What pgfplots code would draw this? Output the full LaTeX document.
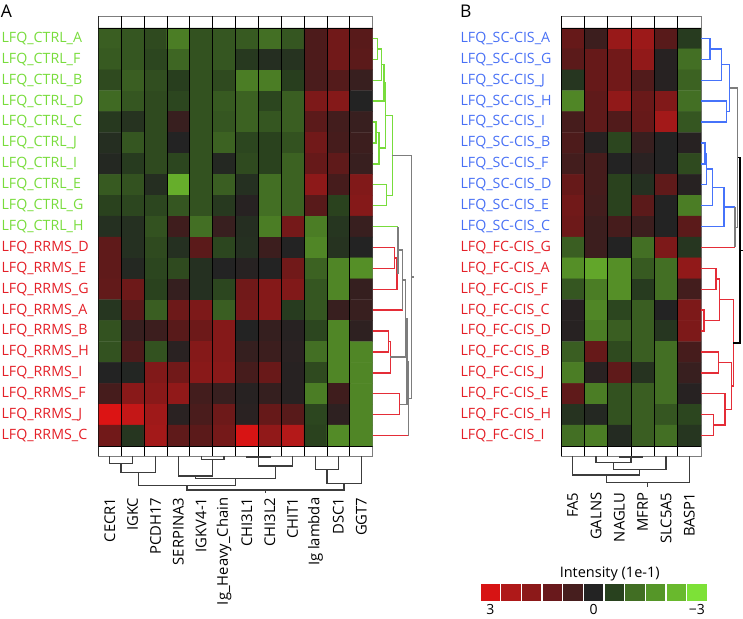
\documentclass[border=0pt]{standalone}
\usepackage{pgfplots}
\pgfplotsset{compat=1.18}
\usepackage{fontspec}
\setmainfont{Open Sans}
\definecolor{lgreen}{RGB}{120,220,60}
\definecolor{lred}{RGB}{228,32,40}
\definecolor{lblue}{RGB}{72,112,245}
\definecolor{dblue}{RGB}{70,115,250}
\definecolor{dred}{RGB}{228,45,55}
\definecolor{dgray}{RGB}{125,125,125}
\definecolor{dblack}{RGB}{60,60,60}
\definecolor{cb0}{RGB}{215,20,20}
\definecolor{cb1}{RGB}{175,25,25}
\definecolor{cb2}{RGB}{140,25,25}
\definecolor{cb3}{RGB}{105,25,28}
\definecolor{cb4}{RGB}{70,30,30}
\definecolor{cb5}{RGB}{35,35,35}
\definecolor{cb6}{RGB}{40,65,30}
\definecolor{cb7}{RGB}{65,110,35}
\definecolor{cb8}{RGB}{85,150,40}
\definecolor{cb9}{RGB}{105,185,45}
\definecolor{cb10}{RGB}{125,225,55}
\newcommand{\cgreen}[1]{\textcolor{lgreen}{#1}}
\newcommand{\cred}[1]{\textcolor{lred}{#1}}
\newcommand{\cblue}[1]{\textcolor{lblue}{#1}}
\pgfplotsset{colormap={hm}{rgb255=(220,20,20) rgb255=(180,25,25) rgb255=(145,25,25) rgb255=(105,25,25) rgb255=(70,28,28) rgb255=(35,35,35) rgb255=(40,62,30) rgb255=(62,102,35) rgb255=(88,148,40) rgb255=(108,185,45) rgb255=(125,225,55)}}
\pgfplotsset{hmstyle/.style={scale only axis, height=440pt, ymin=-19.9785, ymax=1.0742,
  colormap name=hm, point meta min=0, point meta max=10,
  axis line style={draw=dgray, line width=0.8pt}, major tick length=0pt,
  tick label style={font=\fontsize{14.2}{16}\selectfont, inner sep=0pt},
  xticklabel style={font=\fontsize{14.8}{17}\selectfont},
  ytick={0,-1,...,-19}}}
\begin{document}
\begin{tikzpicture}
\path[use as bounding box] (0pt,0pt) rectangle (743pt,-618pt);
% ---------------- Panel A heatmap
\begin{axis}[hmstyle, at={(98.3pt,-16pt)}, anchor=north west, width=274.4pt,
  xmin=0, xmax=12, xtick={0.5,1.5,...,11.5},
  xticklabels={CECR1,IGKC,PCDH17,SERPINA3,IGKV4-1,Ig\_Heavy\_Chain,CHI3L1,CHI3L2,CHIT1,Ig lambda,DSC1,GGT7},
  xticklabel style={yshift=-41.5pt, rotate=90, anchor=east},
  yticklabel style={anchor=west, xshift=-96.9pt},
  yticklabels={\cgreen{LFQ\_CTRL\_A},\cgreen{LFQ\_CTRL\_F},\cgreen{LFQ\_CTRL\_B},\cgreen{LFQ\_CTRL\_D},\cgreen{LFQ\_CTRL\_C},\cgreen{LFQ\_CTRL\_J},\cgreen{LFQ\_CTRL\_I},\cgreen{LFQ\_CTRL\_E},\cgreen{LFQ\_CTRL\_G},\cgreen{LFQ\_CTRL\_H},\cred{LFQ\_RRMS\_D},\cred{LFQ\_RRMS\_E},\cred{LFQ\_RRMS\_G},\cred{LFQ\_RRMS\_A},\cred{LFQ\_RRMS\_B},\cred{LFQ\_RRMS\_H},\cred{LFQ\_RRMS\_I},\cred{LFQ\_RRMS\_F},\cred{LFQ\_RRMS\_J},\cred{LFQ\_RRMS\_C}}]
\addplot[matrix plot*, mesh/cols=12, point meta=explicit] coordinates {
(0.5,0)[6.8] (1.5,0)[6.6] (2.5,0)[6.3] (3.5,0)[7.5] (4.5,0)[6.5] (5.5,0)[6.6] (6.5,0)[6.7] (7.5,0)[7.2] (8.5,0)[6.6] (9.5,0)[3.8] (10.5,0)[2.8] (11.5,0)[3.5]

(0.5,-1)[6.7] (1.5,-1)[6.6] (2.5,-1)[6.2] (3.5,-1)[7.0] (4.5,-1)[6.5] (5.5,-1)[6.6] (6.5,-1)[5.8] (7.5,-1)[5.4] (8.5,-1)[5.6] (9.5,-1)[3.8] (10.5,-1)[2.8] (11.5,-1)[3.4]

(0.5,-2)[6.3] (1.5,-2)[6.8] (2.5,-2)[6.4] (3.5,-2)[6.0] (4.5,-2)[6.5] (5.5,-2)[6.3] (6.5,-2)[7.5] (7.5,-2)[7.5] (8.5,-2)[6.0] (9.5,-2)[3.9] (10.5,-2)[3.6] (11.5,-2)[4.4]

(0.5,-3)[7.1] (1.5,-3)[6.6] (2.5,-3)[6.3] (3.5,-3)[6.2] (4.5,-3)[6.5] (5.5,-3)[6.7] (6.5,-3)[6.9] (7.5,-3)[6.2] (8.5,-3)[6.8] (9.5,-3)[2.5] (10.5,-3)[2.3] (11.5,-3)[5.0]

(0.5,-4)[5.8] (1.5,-4)[5.6] (2.5,-4)[6.3] (3.5,-4)[4.4] (4.5,-4)[6.5] (5.5,-4)[6.6] (6.5,-4)[6.9] (7.5,-4)[6.6] (8.5,-4)[6.8] (9.5,-4)[3.4] (10.5,-4)[4.1] (11.5,-4)[4.4]

(0.5,-5)[5.4] (1.5,-5)[6.6] (2.5,-5)[6.3] (3.5,-5)[5.0] (4.5,-5)[6.5] (5.5,-5)[6.9] (6.5,-5)[6.2] (7.5,-5)[6.1] (8.5,-5)[6.5] (9.5,-5)[2.8] (10.5,-5)[4.0] (11.5,-5)[4.3]

(0.5,-6)[5.2] (1.5,-6)[5.9] (2.5,-6)[6.3] (3.5,-6)[6.2] (4.5,-6)[6.5] (5.5,-6)[5.2] (6.5,-6)[6.3] (7.5,-6)[6.1] (8.5,-6)[6.9] (9.5,-6)[3.1] (10.5,-6)[3.3] (11.5,-6)[4.4]

(0.5,-7)[6.7] (1.5,-7)[6.5] (2.5,-7)[5.4] (3.5,-7)[8.7] (4.5,-7)[6.5] (5.5,-7)[6.8] (6.5,-7)[5.5] (7.5,-7)[7.2] (8.5,-7)[6.9] (9.5,-7)[2.1] (10.5,-7)[4.0] (11.5,-7)[2.4]

(0.5,-8)[6.1] (1.5,-8)[6.2] (2.5,-8)[6.2] (3.5,-8)[6.6] (4.5,-8)[6.5] (5.5,-8)[5.8] (6.5,-8)[4.9] (7.5,-8)[7.2] (8.5,-8)[6.9] (9.5,-8)[3.5] (10.5,-8)[6.1] (11.5,-8)[2.3]

(0.5,-9)[5.5] (1.5,-9)[5.5] (2.5,-9)[6.5] (3.5,-9)[4.2] (4.5,-9)[7.2] (5.5,-9)[4.4] (6.5,-9)[5.4] (7.5,-9)[7.5] (8.5,-9)[2.7] (9.5,-9)[7.5] (10.5,-9)[5.7] (11.5,-9)[4.4]

(0.5,-10)[3.3] (1.5,-10)[5.5] (2.5,-10)[6.3] (3.5,-10)[5.5] (4.5,-10)[3.4] (5.5,-10)[6.2] (6.5,-10)[5.5] (7.5,-10)[4.3] (8.5,-10)[5.0] (9.5,-10)[7.7] (10.5,-10)[5.6] (11.5,-10)[5.0]

(0.5,-11)[3.3] (1.5,-11)[5.2] (2.5,-11)[6.2] (3.5,-11)[6.3] (4.5,-11)[5.5] (5.5,-11)[5.0] (6.5,-11)[4.9] (7.5,-11)[5.0] (8.5,-11)[2.8] (9.5,-11)[6.9] (10.5,-11)[7.7] (11.5,-11)[7.9]

(0.5,-12)[3.2] (1.5,-12)[2.9] (2.5,-12)[6.1] (3.5,-12)[4.5] (4.5,-12)[5.5] (5.5,-12)[6.2] (6.5,-12)[2.8] (7.5,-12)[2.3] (8.5,-12)[2.4] (9.5,-12)[6.6] (10.5,-12)[7.7] (11.5,-12)[4.5]

(0.5,-13)[5.7] (1.5,-13)[3.5] (2.5,-13)[6.8] (3.5,-13)[2.9] (4.5,-13)[2.5] (5.5,-13)[6.8] (6.5,-13)[2.7] (7.5,-13)[2.3] (8.5,-13)[5.9] (9.5,-13)[6.6] (10.5,-13)[4.4] (11.5,-13)[4.4]

(0.5,-14)[6.5] (1.5,-14)[4.4] (2.5,-14)[4.3] (3.5,-14)[3.5] (4.5,-14)[2.9] (5.5,-14)[2.3] (6.5,-14)[5.0] (7.5,-14)[4.5] (8.5,-14)[4.9] (9.5,-14)[6.2] (10.5,-14)[7.7] (11.5,-14)[4.7]

(0.5,-15)[6.5] (1.5,-15)[3.8] (2.5,-15)[6.5] (3.5,-15)[4.8] (4.5,-15)[2.3] (5.5,-15)[2.3] (6.5,-15)[4.5] (7.5,-15)[4.3] (8.5,-15)[4.8] (9.5,-15)[7.2] (10.5,-15)[7.7] (11.5,-15)[7.7]

(0.5,-16)[5.0] (1.5,-16)[5.1] (2.5,-16)[2.4] (3.5,-16)[2.8] (4.5,-16)[2.2] (5.5,-16)[2.2] (6.5,-16)[4.0] (7.5,-16)[3.0] (8.5,-16)[4.9] (9.5,-16)[6.3] (10.5,-16)[7.7] (11.5,-16)[7.7]

(0.5,-17)[4.0] (1.5,-17)[2.2] (2.5,-17)[2.2] (3.5,-17)[2.0] (4.5,-17)[4.1] (5.5,-17)[4.4] (6.5,-17)[4.9] (7.5,-17)[4.5] (8.5,-17)[4.9] (9.5,-17)[7.5] (10.5,-17)[4.2] (11.5,-17)[7.7]

(0.5,-18)[0.0] (1.5,-18)[0.6] (2.5,-18)[1.6] (3.5,-18)[4.8] (4.5,-18)[3.9] (5.5,-18)[2.9] (6.5,-18)[4.8] (7.5,-18)[3.1] (8.5,-18)[3.5] (9.5,-18)[6.2] (10.5,-18)[4.7] (11.5,-18)[7.7]

(0.5,-19)[2.8] (1.5,-19)[5.7] (2.5,-19)[1.5] (3.5,-19)[3.3] (4.5,-19)[3.4] (5.5,-19)[2.7] (6.5,-19)[0.1] (7.5,-19)[2.0] (8.5,-19)[1.0] (9.5,-19)[6.1] (10.5,-19)[7.8] (11.5,-19)[7.7]
};
\pgfplotsinvokeforeach{0,...,11}{\draw[black, line width=0.8pt] (axis cs:#1,-19.9785) -- (axis cs:#1,1.0742);}
\draw[black, line width=0.8pt] (axis cs:0,0.5) -- (axis cs:12,0.5);
\draw[black, line width=0.8pt] (axis cs:0,-19.5) -- (axis cs:12,-19.5);
\end{axis}
% ---------------- Panel B heatmap
\begin{axis}[hmstyle, at={(561pt,-16pt)}, anchor=north west, width=140pt,
  xmin=0, xmax=6, xtick={0.5,1.5,...,5.5},
  xticklabels={FA5,GALNS,NAGLU,MFRP,SLC5A5,BASP1},
  xticklabel style={yshift=-36.5pt, rotate=90, anchor=east},
  yticklabel style={anchor=west, xshift=-100.6pt},
  yticklabels={\cblue{LFQ\_SC-CIS\_A},\cblue{LFQ\_SC-CIS\_G},\cblue{LFQ\_SC-CIS\_J},\cblue{LFQ\_SC-CIS\_H},\cblue{LFQ\_SC-CIS\_I},\cblue{LFQ\_SC-CIS\_B},\cblue{LFQ\_SC-CIS\_F},\cblue{LFQ\_SC-CIS\_D},\cblue{LFQ\_SC-CIS\_E},\cblue{LFQ\_SC-CIS\_C},\cred{LFQ\_FC-CIS\_G},\cred{LFQ\_FC-CIS\_A},\cred{LFQ\_FC-CIS\_F},\cred{LFQ\_FC-CIS\_C},\cred{LFQ\_FC-CIS\_D},\cred{LFQ\_FC-CIS\_B},\cred{LFQ\_FC-CIS\_J},\cred{LFQ\_FC-CIS\_E},\cred{LFQ\_FC-CIS\_H},\cred{LFQ\_FC-CIS\_I}}]
\addplot[matrix plot*, mesh/cols=6, point meta=explicit] coordinates {
(0.5,0)[3.1] (1.5,0)[4.3] (2.5,0)[1.8] (3.5,0)[1.7] (4.5,0)[3.5] (5.5,0)[5.9]

(0.5,-1)[3.4] (1.5,-1)[3.1] (2.5,-1)[2.8] (3.5,-1)[2.0] (4.5,-1)[4.9] (5.5,-1)[7.2]

(0.5,-2)[5.7] (1.5,-2)[3.1] (2.5,-2)[2.8] (3.5,-2)[3.7] (4.5,-2)[4.9] (5.5,-2)[6.9]

(0.5,-3)[7.7] (1.5,-3)[3.3] (2.5,-3)[2.0] (3.5,-3)[3.0] (4.5,-3)[2.4] (5.5,-3)[7.2]

(0.5,-4)[4.0] (1.5,-4)[3.3] (2.5,-4)[3.7] (3.5,-4)[3.1] (4.5,-4)[1.5] (5.5,-4)[6.6]

(0.5,-5)[3.8] (1.5,-5)[4.9] (2.5,-5)[6.2] (3.5,-5)[4.4] (4.5,-5)[5.0] (5.5,-5)[4.9]

(0.5,-6)[4.1] (1.5,-6)[4.0] (2.5,-6)[5.0] (3.5,-6)[4.8] (4.5,-6)[5.0] (5.5,-6)[6.3]

(0.5,-7)[3.1] (1.5,-7)[4.0] (2.5,-7)[6.1] (3.5,-7)[5.5] (4.5,-7)[3.3] (5.5,-7)[4.9]

(0.5,-8)[2.8] (1.5,-8)[4.1] (2.5,-8)[6.1] (3.5,-8)[3.4] (4.5,-8)[5.0] (5.5,-8)[7.5]

(0.5,-9)[2.9] (1.5,-9)[4.3] (2.5,-9)[4.0] (3.5,-9)[4.3] (4.5,-9)[5.0] (5.5,-9)[3.4]

(0.5,-10)[6.8] (1.5,-10)[4.3] (2.5,-10)[5.0] (3.5,-10)[7.2] (4.5,-10)[2.5] (5.5,-10)[5.7]

(0.5,-11)[7.9] (1.5,-11)[8.5] (2.5,-11)[7.9] (3.5,-11)[6.7] (4.5,-11)[7.2] (5.5,-11)[2.0]

(0.5,-12)[6.6] (1.5,-12)[7.5] (2.5,-12)[7.9] (3.5,-12)[5.9] (4.5,-12)[7.2] (5.5,-12)[4.1]

(0.5,-13)[4.9] (1.5,-13)[7.7] (2.5,-13)[6.2] (3.5,-13)[6.8] (4.5,-13)[5.0] (5.5,-13)[2.5]

(0.5,-14)[4.9] (1.5,-14)[7.5] (2.5,-14)[6.8] (3.5,-14)[6.8] (4.5,-14)[5.7] (5.5,-14)[2.5]

(0.5,-15)[6.8] (1.5,-15)[3.1] (2.5,-15)[6.3] (3.5,-15)[6.8] (4.5,-15)[7.2] (5.5,-15)[4.0]

(0.5,-16)[7.5] (1.5,-16)[4.8] (2.5,-16)[3.3] (3.5,-16)[5.6] (4.5,-16)[7.2] (5.5,-16)[4.4]

(0.5,-17)[3.3] (1.5,-17)[7.5] (2.5,-17)[6.5] (3.5,-17)[6.8] (4.5,-17)[7.2] (5.5,-17)[4.9]

(0.5,-18)[5.6] (1.5,-18)[5.2] (2.5,-18)[6.5] (3.5,-18)[6.8] (4.5,-18)[6.6] (5.5,-18)[6.2]

(0.5,-19)[7.2] (1.5,-19)[7.5] (2.5,-19)[5.3] (3.5,-19)[6.8] (4.5,-19)[7.2] (5.5,-19)[5.7]
};
\pgfplotsinvokeforeach{0,...,5}{\draw[black, line width=0.8pt] (axis cs:#1,-19.9785) -- (axis cs:#1,1.0742);}
\draw[black, line width=0.8pt] (axis cs:0,0.5) -- (axis cs:6,0.5);
\draw[black, line width=0.8pt] (axis cs:0,-19.5) -- (axis cs:6,-19.5);
\end{axis}
% ---------------- Colour key
\begin{axis}[at={(480pt,-584pt)}, anchor=north west, scale only axis, width=227.3pt, height=16.7pt,
  xmin=-0.5, xmax=10.5, ymin=0, ymax=1, axis line style={draw=none}, major tick length=0pt,
  ytick=\empty, xtick={0,5,10}, xticklabels={3,0,−3},
  tick label style={font=\fontsize{14}{15}\selectfont, inner sep=0pt},
  xticklabel style={yshift=-3pt}]
\addplot[ybar, bar width=19.6pt, bar shift=0pt, fill=cb0, draw=none] coordinates {(0,1)};
\addplot[ybar, bar width=19.6pt, bar shift=0pt, fill=cb1, draw=none] coordinates {(1,1)};
\addplot[ybar, bar width=19.6pt, bar shift=0pt, fill=cb2, draw=none] coordinates {(2,1)};
\addplot[ybar, bar width=19.6pt, bar shift=0pt, fill=cb3, draw=none] coordinates {(3,1)};
\addplot[ybar, bar width=19.6pt, bar shift=0pt, fill=cb4, draw=none] coordinates {(4,1)};
\addplot[ybar, bar width=19.6pt, bar shift=0pt, fill=cb5, draw=none] coordinates {(5,1)};
\addplot[ybar, bar width=19.6pt, bar shift=0pt, fill=cb6, draw=none] coordinates {(6,1)};
\addplot[ybar, bar width=19.6pt, bar shift=0pt, fill=cb7, draw=none] coordinates {(7,1)};
\addplot[ybar, bar width=19.6pt, bar shift=0pt, fill=cb8, draw=none] coordinates {(8,1)};
\addplot[ybar, bar width=19.6pt, bar shift=0pt, fill=cb9, draw=none] coordinates {(9,1)};
\addplot[ybar, bar width=19.6pt, bar shift=0pt, fill=cb10, draw=none] coordinates {(10,1)};
\end{axis}
% ---------------- Overlay: dendrograms and texts (pixel units)
\begin{axis}[at={(0pt,0pt)}, anchor=north west, scale only axis, width=743pt, height=618pt,
  xmin=0, xmax=743, ymin=0, ymax=618, y dir=reverse, hide axis, clip=false, unbounded coords=jump]
% A rows, green
\addplot[lgreen, line width=1.4pt] table[row sep=\\] {x y\\
372.7 38.45\\ 377.3 38.45\\ 377.3 59.35\\ 372.7 59.35\\ nan nan\\
377.3 48.9\\ 381.7 48.9\\ 381.7 80.25\\ 372.7 80.25\\ nan nan\\
381.7 64.58\\ 384 64.58\\ 384 101.15\\ 372.7 101.15\\ nan nan\\
372.7 122.05\\ 376 122.05\\ 376 142.95\\ 372.7 142.95\\ nan nan\\
376 132.5\\ 379 132.5\\ 379 163.85\\ 372.7 163.85\\ nan nan\\
384 82.86\\ 385.5 82.86\\ 385.5 148.18\\ 379 148.18\\ nan nan\\
372.7 184.75\\ 386.7 184.75\\ 386.7 205.65\\ 372.7 205.65\\ nan nan\\
385.5 115.52\\ 392.3 115.52\\ 392.3 195.2\\ 386.7 195.2\\ nan nan\\
372.7 226.55\\ 398 226.55\\
};
% A rows, red
\addplot[dred, line width=1.4pt] table[row sep=\\] {x y\\
372.7 247.45\\ 394.7 247.45\\ 394.7 268.35\\ 372.7 268.35\\ nan nan\\
394.7 257.9\\ 397 257.9\\ 397 289.25\\ 372.7 289.25\\ nan nan\\
372.7 310.15\\ 402.7 310.15\\ nan nan\\
372.7 331.05\\ 388.7 331.05\\ 388.7 351.95\\ 372.7 351.95\\ nan nan\\
388.7 341.5\\ 390.3 341.5\\ 390.3 372.85\\ 372.7 372.85\\ nan nan\\
372.7 393.75\\ 399.7 393.75\\ 399.7 414.65\\ 372.7 414.65\\ nan nan\\
372.7 435.55\\ 408.5 435.55\\
};
% A rows, grey
\addplot[dgray, line width=1.4pt] table[row sep=\\] {x y\\
397 273.58\\ 398 273.58\\ 398 226.55\\ nan nan\\
398 250.06\\ 402.7 250.06\\ 402.7 310.15\\ nan nan\\
402.7 280.1\\ 405.3 280.1\\ 405.3 357.18\\ 390.3 357.18\\ nan nan\\
405.3 318.64\\ 407 318.64\\ 407 404.2\\ 399.7 404.2\\ nan nan\\
407 361.42\\ 408.5 361.42\\ 408.5 435.55\\ nan nan\\
392.3 155.36\\ 411.3 155.36\\ 411.3 398.5\\ 408.5 398.5\\ nan nan\\
411.3 276.9\\ 413.5 276.9\\
};
% B rows, blue
\addplot[dblue, line width=1.4pt] table[row sep=\\] {x y\\
701 38.45\\ 710 38.45\\ 710 59.35\\ 701 59.35\\ nan nan\\
710 48.9\\ 721.7 48.9\\ 721.7 80.25\\ 701 80.25\\ nan nan\\
701 101.15\\ 726.7 101.15\\ 726.7 122.05\\ 701 122.05\\ nan nan\\
721.7 64.58\\ 729.5 64.58\\ 729.5 111.6\\ 726.7 111.6\\ nan nan\\
701 142.95\\ 705 142.95\\ 705 163.85\\ 701 163.85\\ nan nan\\
705 153.4\\ 706.7 153.4\\ 706.7 184.75\\ 701 184.75\\ nan nan\\
706.7 169.08\\ 712.7 169.08\\ 712.7 205.65\\ 701 205.65\\ nan nan\\
712.7 187.36\\ 724 187.36\\ 724 226.55\\ 701 226.55\\ nan nan\\
724 206.96\\ 735 206.96\\
};
% B rows, grey
\addplot[dgray, line width=1.4pt] table[row sep=\\] {x y\\
735 206.96\\ 735 247.45\\ nan nan\\
729.5 88.09\\ 737.5 88.09\\ 737.5 227.2\\ 735 227.2\\
};
% B rows, red
\addplot[dred, line width=1.4pt] table[row sep=\\] {x y\\
701 247.45\\ 735 247.45\\ nan nan\\
701 268.35\\ 716 268.35\\ 716 289.25\\ 701 289.25\\ nan nan\\
701 310.15\\ 704 310.15\\ 704 331.05\\ 701 331.05\\ nan nan\\
716 278.8\\ 719.5 278.8\\ 719.5 320.6\\ 704 320.6\\ nan nan\\
701 351.95\\ 718.3 351.95\\ 718.3 372.85\\ 701 372.85\\ nan nan\\
701 414.65\\ 713.3 414.65\\ 713.3 435.55\\ 701 435.55\\ nan nan\\
701 393.75\\ 725 393.75\\ 725 425.1\\ 713.3 425.1\\ nan nan\\
718.3 362.4\\ 731.7 362.4\\ 731.7 409.43\\ 725 409.43\\ nan nan\\
719.5 299.7\\ 733.3 299.7\\ 733.3 385.9\\ 731.7 385.9\\
};
% B rows, root
\addplot[black, line width=1.4pt] table[row sep=\\] {x y\\
737.5 157.65\\ 740 157.65\\ 740 342.8\\ 733.3 342.8\\ nan nan\\
740 250.2\\ 742.5 250.2\\
};
% A columns
\addplot[dblack, line width=1.4pt] table[row sep=\\] {x y\\
109.73 456\\ 109.73 463.3\\ 132.6 463.3\\ 132.6 456\\ nan nan\\
121.17 463.3\\ 121.17 472.7\\ 155.47 472.7\\ 155.47 456\\ nan nan\\
201.2 456\\ 201.2 459.3\\ 224.07 459.3\\ 224.07 456\\ nan nan\\
178.33 456\\ 178.33 476\\ 212.63 476\\ 212.63 459.3\\ nan nan\\
246.93 456\\ 246.93 456.8\\ 269.8 456.8\\ 269.8 456\\ nan nan\\
258.37 456.8\\ 258.37 466\\ 292.67 466\\ 292.67 456\\ nan nan\\
195.48 476\\ 195.48 478.3\\ 275.52 478.3\\ 275.52 466\\ nan nan\\
138.32 472.7\\ 138.32 485.7\\ 235.5 485.7\\ 235.5 478.3\\ nan nan\\
315.53 456\\ 315.53 469.3\\ 338.4 469.3\\ 338.4 456\\ nan nan\\
326.97 469.3\\ 326.97 483.3\\ 361.27 483.3\\ 361.27 456\\ nan nan\\
186.91 485.7\\ 186.91 490\\ 344.12 490\\ 344.12 483.3\\ nan nan\\
265.5 490\\ 265.5 492.7\\
};
% B columns
\addplot[dblack, line width=1.4pt] table[row sep=\\] {x y\\
619.33 456\\ 619.33 456.8\\ 642.67 456.8\\ 642.67 456\\ nan nan\\
596 456\\ 596 462.7\\ 631 462.7\\ 631 456.8\\ nan nan\\
613.5 462.7\\ 613.5 469.3\\ 666 469.3\\ 666 456\\ nan nan\\
572.67 456\\ 572.67 475\\ 639.75 475\\ 639.75 469.3\\ nan nan\\
606.21 475\\ 606.21 482.7\\ 689.33 482.7\\ 689.33 456\\ nan nan\\
647.77 482.7\\ 647.77 486.7\\
};
\node[anchor=base west, inner sep=0pt, font=\fontsize{17.5}{20}\selectfont] at (axis cs:0.6,17.3) {A};
\node[anchor=base west, inner sep=0pt, font=\fontsize{17.5}{20}\selectfont] at (axis cs:460,17.3) {B};
\node[anchor=base, inner sep=0pt, font=\fontsize{14.5}{16}\selectfont] at (axis cs:609.7,577.5) {Intensity (1e-1)};
\end{axis}
\end{tikzpicture}
\end{document}
